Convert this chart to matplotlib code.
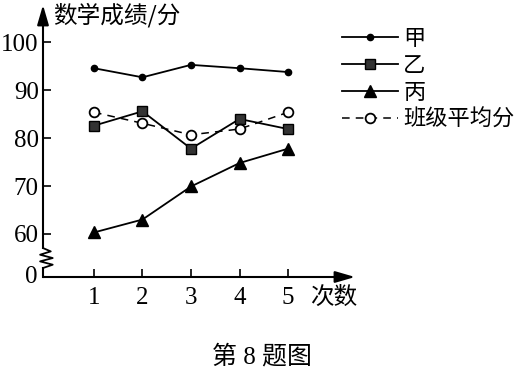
import matplotlib
matplotlib.use("Agg")
import matplotlib.pyplot as plt

plt.rcParams['font.family'] = ['Liberation Serif', 'Noto Sans CJK SC', 'DejaVu Sans']

rounds = [1, 2, 3, 4, 5]
jia = [94.6, 92.7, 95.3, 94.6, 93.8]
yi = [82.6, 85.6, 77.8, 84.0, 81.9]
bing = [60.3, 63.0, 69.9, 74.8, 77.8]
class_avg = [85.4, 83.1, 80.7, 81.9, 85.4]
names = ["甲", "乙", "丙", "班级平均分"]
yticks = [60, 70, 80, 90, 100]

cjk = ['Noto Sans CJK SC', 'DejaVu Sans']

fig = plt.figure(figsize=(5.27, 3.8), dpi=100)
W, H = 527, 380
ax = fig.add_axes([43 / W, (H - 277) / H, (355 - 43) / W, (277 - 5) / H])
ymin, ymax = 51.0, 107.8
xmin, xmax = -0.05, 6.38
ax.set_xlim(xmin, xmax)
ax.set_ylim(ymin, ymax)

lw = 1.3
ax.plot(rounds, jia, color="black", lw=lw, marker="o", ms=4.5, label=names[0])
ax.plot(rounds, yi, color="black", lw=lw, marker="s", ms=7.5, mfc="#333333", mec="black", label=names[1])
ax.plot(rounds, bing, color="black", lw=lw, marker="^", ms=9, label=names[2])
ax.plot(rounds, class_avg, color="black", lw=1.1, ls=(0, (5, 4)), marker="o", ms=7,
        mfc="white", mec="black", mew=1.3, label=names[3])

for s in ["top", "right", "left", "bottom"]:
    ax.spines[s].set_visible(False)

arrow = dict(arrowstyle="-|>,head_length=1.2,head_width=0.35", color="black", lw=1.5, shrinkA=0, shrinkB=0)
ax.annotate("", xy=(xmax, ymin), xytext=(xmin, ymin), arrowprops=arrow, annotation_clip=False)

# y axis with zigzag break
zz_y0 = ymin + (277 - 268) / 4.8
zz_y1 = ymin + (277 - 248) / 4.8
ax.plot([xmin, xmin], [ymin, zz_y0], color="black", lw=1.5, clip_on=False)
dx = 0.2
step = (zz_y1 - zz_y0) / 6
zx = [xmin, xmin + dx, xmin - dx * 0.3, xmin + dx, xmin - dx * 0.3, xmin + dx * 0.8, xmin]
zy = [zz_y0 + i * step for i in range(7)]
ax.plot(zx, zy, color="black", lw=1.3, clip_on=False)
ax.annotate("", xy=(xmin, ymax), xytext=(xmin, zz_y1), arrowprops=arrow, annotation_clip=False)

ax.set_xticks(rounds)
ax.set_xticklabels([str(r) for r in rounds])
ax.set_yticks(yticks)
ax.set_yticklabels([str(v) for v in yticks])
ax.tick_params(axis="both", direction="in", length=6, width=1.2, labelsize=18, pad=3)
ax.tick_params(axis="x", pad=7)
ax.text(xmin - 0.12, ymin, "0", ha="right", va="center", fontsize=18)

ax.text(0.15, ymax - 2.2, "数学成绩/分", fontsize=17, ha="left", va="center", family=cjk)
ax.text(5.45, ymin - 4.3, "次数", fontsize=17, ha="left", va="center", family=cjk)

fig.text(262 / W, 1 - 357 / H, "第 8 题图", fontsize=18, ha="center", va="center",
         family=['Liberation Serif', 'Noto Sans CJK SC', 'DejaVu Sans'])

leg = fig.legend(loc="upper left", bbox_to_anchor=(322 / W, 1 - 7 / H), frameon=False,
                 handlelength=2.5, handletextpad=0.25, labelspacing=0.18,
                 prop={"family": cjk, "size": 16})

fig.savefig("out.png", dpi=100)
